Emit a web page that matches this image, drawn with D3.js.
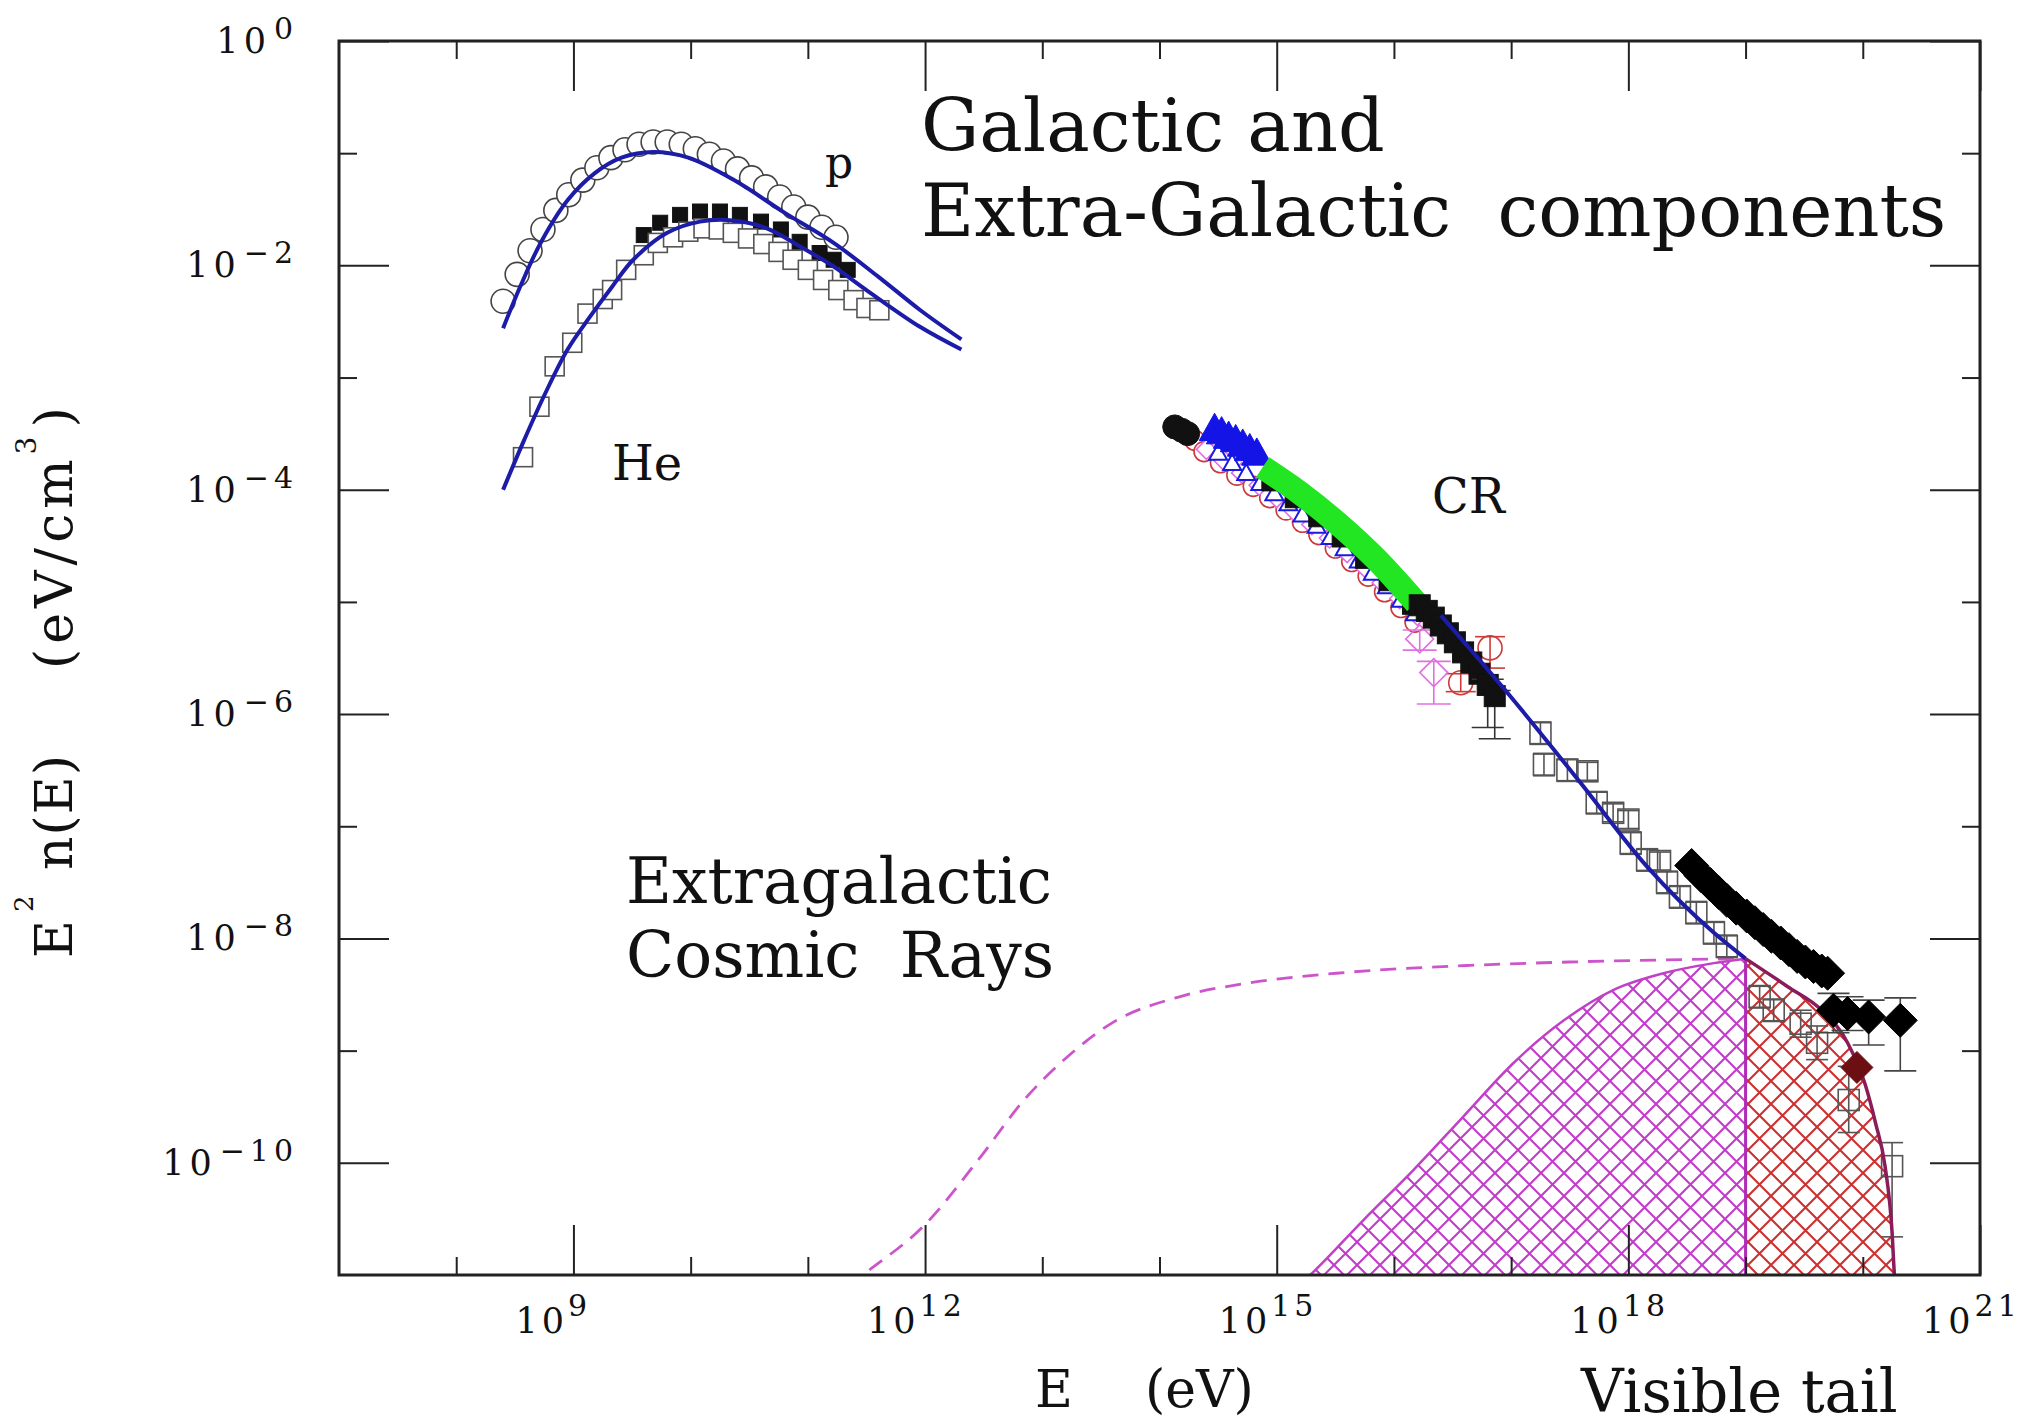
<!DOCTYPE html>
<html>
<head>
<meta charset="utf-8">
<script src="https://cdn.jsdelivr.net/npm/d3@7"></script>
<style>
  body { margin: 0; background: #fff; }
  text { font-family: 'DejaVu Serif', serif; fill: #111; }
</style>
</head>
<body>
<div id="chart"></div>
<script>
// all values are [log10 E (eV), log10 E^2 n(E) (eV/cm^3)]
// tick exponents
var xMajorExp = [9, 12, 15, 18, 21];
var xMinorExp = [8, 10, 11, 13, 14, 16, 17, 19, 20];
var yMajorExp = [0, -2, -4, -6, -8, -10];
var yMinorExp = [-1, -3, -5, -7, -9];

// galactic p and He fits
var pFit = [[8.40,-2.56],[8.55,-2.18],[8.72,-1.80],[8.95,-1.42],[9.18,-1.18],[9.41,-1.04],[9.68,-0.99],
  [9.98,-1.04],[10.37,-1.24],[10.80,-1.53],[11.22,-1.80],[11.60,-2.10],[11.96,-2.40],[12.31,-2.66]];
var heFit = [[8.40,-4.00],[8.57,-3.58],[8.76,-3.14],[8.95,-2.75],[9.14,-2.46],[9.33,-2.19],[9.51,-1.95],
  [9.80,-1.71],[10.08,-1.61],[10.36,-1.60],[10.65,-1.67],[10.93,-1.83],[11.22,-2.01],[11.50,-2.22],
  [11.96,-2.55],[12.31,-2.75]];
var pCircles = [[8.40,-2.32],[8.52,-2.08],[8.63,-1.87],[8.74,-1.68],[8.85,-1.51],[8.96,-1.37],[9.08,-1.24],
  [9.20,-1.13],[9.32,-1.04],[9.44,-0.97],[9.56,-0.92],[9.68,-0.90],[9.80,-0.90],[9.92,-0.92],[10.04,-0.96],
  [10.16,-1.01],[10.28,-1.07],[10.40,-1.14],[10.52,-1.22],[10.64,-1.30],[10.76,-1.39],[10.88,-1.48],
  [11.00,-1.57],[11.12,-1.66],[11.24,-1.75]];
var heSquares = [[8.57,-3.71],[8.71,-3.26],[8.84,-2.90],[8.99,-2.69],[9.12,-2.43],[9.25,-2.30],[9.33,-2.22],
  [9.45,-2.04],[9.60,-1.91],[9.72,-1.80],[9.85,-1.75],[9.98,-1.70],[10.11,-1.67],[10.24,-1.68],[10.36,-1.71],
  [10.49,-1.76],[10.62,-1.81],[10.75,-1.88],[10.87,-1.95],[11.00,-2.04],[11.13,-2.13],[11.26,-2.22],
  [11.39,-2.31],[11.50,-2.38],[11.61,-2.40]];
var heBlack = [[9.60,-1.73],[9.74,-1.62],[9.91,-1.55],[10.08,-1.52],[10.25,-1.52],[10.42,-1.55],[10.60,-1.61],
  [10.77,-1.68],[10.93,-1.79],[11.10,-1.89],[11.22,-1.95],[11.34,-2.04]];

// cosmic ray data
var crBlackCircles = [[14.13,-3.44],[14.19,-3.47],[14.24,-3.50]];
var crLower = [[14.40,-3.64],[14.55,-3.74],[14.70,-3.85],[14.85,-3.96],[15.00,-4.07],[15.15,-4.19],
  [15.30,-4.31],[15.45,-4.43],[15.60,-4.56],[15.75,-4.69],[15.90,-4.83],[16.05,-4.97],[16.20,-5.12]];
var crRedCircles = [[14.30,-3.56],[14.38,-3.66],[14.52,-3.76],[14.66,-3.87],[14.80,-3.97],[14.94,-4.07],
  [15.08,-4.18],[15.22,-4.29],[15.36,-4.40],[15.50,-4.52],[15.64,-4.64],[15.78,-4.77],[15.92,-4.91],
  [16.06,-5.05],[16.18,-5.18]];
var crRedErr = [[16.57,-5.72,0.08,0.08],[16.82,-5.41,0.1,0.18]];
var crMagentaErr = [[16.22,-5.33,0.08,0.1],[16.34,-5.63,0.1,0.28]];
var crBlueTop = [[14.47,-3.47],[14.53,-3.50],[14.59,-3.54],[14.65,-3.57],[14.71,-3.61],[14.77,-3.65],[14.83,-3.69]];
var crBlueRow = [[14.50,-3.68],[14.62,-3.77],[14.74,-3.86],[14.86,-3.95],[14.98,-4.04],[15.10,-4.13],
  [15.22,-4.23],[15.34,-4.33],[15.46,-4.43],[15.58,-4.53],[15.70,-4.64],[15.82,-4.75],[15.94,-4.87],
  [16.06,-4.99],[16.18,-5.11]];
var crGreen = [[14.88,-3.80],[15.20,-4.03],[15.52,-4.30],[15.85,-4.62],[16.19,-5.01]];
var crBlackUnder = [[14.95,-3.93],[15.15,-4.08],[15.35,-4.25],[15.55,-4.43],[15.75,-4.62],[15.95,-4.82],[16.15,-5.03]];
var crBlackSquares = [[16.22,-5.03],[16.28,-5.08],[16.34,-5.14],[16.40,-5.21],[16.46,-5.28],[16.52,-5.36],
  [16.59,-5.45],[16.66,-5.54],[16.73,-5.64]];
var crBlackSqErr = [[16.80,-5.74,0.05,0.38],[16.86,-5.84,0.05,0.38]];
var crOpenSquares = [[17.25,-6.17,0.1,0.1],[17.28,-6.45,0.1,0.1],[17.48,-6.50,0.1,0.1],[17.65,-6.51,0.08,0.08],
  [17.73,-6.79,0.1,0.1],[17.87,-6.88,0.08,0.08],[18.00,-6.94,0.08,0.08],[18.02,-7.15,0.1,0.1],
  [18.16,-7.30,0.1,0.1],[18.27,-7.31,0.08,0.08],[18.33,-7.50,0.1,0.1],[18.44,-7.63,0.1,0.1],
  [18.58,-7.77,0.1,0.1],[18.73,-7.95,0.1,0.1],[18.84,-8.07,0.1,0.1],[19.12,-8.52,0.1,0.1],
  [19.24,-8.64,0.1,0.1],[19.47,-8.76,0.12,0.12],[19.61,-8.93,0.15,0.15],[19.88,-9.44,0.3,0.29],
  [20.25,-10.03,0.21,0.63]];
var crDiamondBand = [[18.54,-7.35],[18.62,-7.44],[18.70,-7.52],[18.77,-7.59],[18.84,-7.66],[18.92,-7.73],
  [19.01,-7.80],[19.08,-7.86],[19.15,-7.92],[19.22,-7.98],[19.30,-8.04],[19.37,-8.10],[19.44,-8.16],
  [19.51,-8.21],[19.58,-8.25],[19.65,-8.29],[19.70,-8.31]];
var crDiamondErr = [[19.75,-8.64,0.15,0.2],[19.87,-8.67,0.15,0.15],[20.05,-8.70,0.15,0.25],[20.32,-8.73,0.2,0.45]];
var crDiamondLow = [[19.95,-9.15]];
var crFit = [[16.40,-5.12],[17.00,-5.85],[17.59,-6.61],[18.16,-7.36],[18.73,-7.95],[19.00,-8.18]];

// extragalactic component
var egDashed = [[11.35,-11.10],[11.47,-11.00],[12.00,-10.55],[12.457,-9.97],[12.836,-9.45],[13.22,-9.05],
  [13.60,-8.75],[14.17,-8.52],[14.74,-8.40],[15.51,-8.31],[16.65,-8.24],[17.50,-8.21],[19.00,-8.18]];
var egGalZone = [[15.20,-11.08],[15.285,-11.00],[15.74,-10.51],[16.17,-10.06],[16.59,-9.59],[17.02,-9.11],
  [17.45,-8.73],[17.87,-8.46],[18.30,-8.31],[18.73,-8.22],[19.00,-8.18]];
var egTail = [[19.00,-8.18],[19.36,-8.43],[19.65,-8.64],[19.87,-8.93],[20.02,-9.30],[20.11,-9.65],
  [20.19,-10.03],[20.25,-10.62],[20.27,-11.00],[20.28,-11.10]];

var width = 2029, height = 1428;
var margin = {top: 41, right: 49, bottom: 153, left: 339};
var plotW = width - margin.left - margin.right,
    plotH = height - margin.top - margin.bottom;

var svg = d3.select("#chart").append("svg")
  .attr("width", width).attr("height", height);

var x = d3.scaleLog().domain([1e7, 1e21]).range([margin.left, margin.left + plotW]);
var y = d3.scaleLog().domain([1e-11, 1]).range([margin.top + plotH, margin.top]);
var px = function(d){ return x(Math.pow(10, d[0])); };
var py = function(d){ return y(Math.pow(10, d[1])); };

var defs = svg.append("defs");
defs.append("clipPath").attr("id", "plotClip").append("rect")
  .attr("x", margin.left).attr("y", margin.top).attr("width", plotW).attr("height", plotH);

function hatch(id, color) {
  var p = defs.append("pattern").attr("id", id)
    .attr("patternUnits", "userSpaceOnUse").attr("width", 23).attr("height", 23);
  p.append("rect").attr("width", 23).attr("height", 23).attr("fill", "#fff");
  p.append("path").attr("d", "M0,0L23,23M23,0L0,23")
    .attr("stroke", color).attr("stroke-width", 2.1).attr("fill", "none");
}
hatch("hatchPink", "#c23ccb");
hatch("hatchRed", "#cc3030");

var plot = svg.append("g").attr("clip-path", "url(#plotClip)");
var line = d3.line().x(px).y(py).curve(d3.curveMonotoneX);
var bottomY = y(1e-11) + 20;
var area = d3.area().x(px).y0(bottomY).y1(py).curve(d3.curveMonotoneX);

// hatched extragalactic regions
plot.append("path").datum(egGalZone).attr("d", area)
  .attr("fill", "url(#hatchPink)").attr("stroke", "none");
plot.append("path").datum(egGalZone).attr("d", line)
  .attr("fill", "none").attr("stroke", "#c040c8").attr("stroke-width", 2.5);
plot.append("path").datum(egTail).attr("d", area)
  .attr("fill", "url(#hatchRed)").attr("stroke", "none");
plot.append("line")
  .attr("x1", x(1e19)).attr("x2", x(1e19))
  .attr("y1", py([19, -8.18])).attr("y2", bottomY)
  .attr("stroke", "#b02cb4").attr("stroke-width", 3);
plot.append("path").datum(egDashed).attr("d", line)
  .attr("fill", "none").attr("stroke", "#cc55cc").attr("stroke-width", 2.8)
  .attr("stroke-dasharray", "16,10");

// marker helpers
function squares(g, data, s, fill, stroke, sw) {
  g.selectAll(null).data(data).enter().append("rect")
    .attr("x", function(d){ return px(d) - s/2; })
    .attr("y", function(d){ return py(d) - s/2; })
    .attr("width", s).attr("height", s)
    .attr("fill", fill).attr("stroke", stroke).attr("stroke-width", sw);
}
function circles(g, data, r, fill, stroke, sw) {
  g.selectAll(null).data(data).enter().append("circle")
    .attr("cx", px).attr("cy", py).attr("r", r)
    .attr("fill", fill).attr("stroke", stroke).attr("stroke-width", sw);
}
function diamonds(g, data, h, fill, stroke, sw) {
  g.selectAll(null).data(data).enter().append("path")
    .attr("d", function(d){ var cx = px(d), cy = py(d);
      return "M" + cx + "," + (cy-h) + "L" + (cx+h) + "," + cy + "L" + cx + "," + (cy+h) + "L" + (cx-h) + "," + cy + "Z"; })
    .attr("fill", fill).attr("stroke", stroke).attr("stroke-width", sw);
}
function triangles(g, data, h, fill, stroke, sw) {
  g.selectAll(null).data(data).enter().append("path")
    .attr("d", function(d){ var cx = px(d), cy = py(d);
      return "M" + cx + "," + (cy-h) + "L" + (cx+h*0.9) + "," + (cy+h*0.6) + "L" + (cx-h*0.9) + "," + (cy+h*0.6) + "Z"; })
    .attr("fill", fill).attr("stroke", stroke).attr("stroke-width", sw);
}
function errBars(g, data, cap, color) {
  data.forEach(function(d){
    var cx = px(d), yTop = py([d[0], d[1] + d[2]]), yBot = py([d[0], d[1] - d[3]]);
    g.append("line").attr("x1", cx).attr("x2", cx).attr("y1", yTop).attr("y2", yBot)
      .attr("stroke", color).attr("stroke-width", 1.6);
    [yTop, yBot].forEach(function(yy){
      g.append("line").attr("x1", cx - cap/2).attr("x2", cx + cap/2).attr("y1", yy).attr("y2", yy)
        .attr("stroke", color).attr("stroke-width", 1.6);
    });
  });
}

// p and He data
squares(plot, heBlack, 15, "#111", "#111", 1);
squares(plot, heSquares, 19, "#fff", "#555", 1.6);
circles(plot, pCircles, 12, "#fff", "#444", 1.6);
plot.append("path").datum(pFit).attr("d", line.curve(d3.curveCatmullRom))
  .attr("fill", "none").attr("stroke", "#1c1ca8").attr("stroke-width", 4);
plot.append("path").datum(heFit).attr("d", line)
  .attr("fill", "none").attr("stroke", "#1c1ca8").attr("stroke-width", 4);
line.curve(d3.curveMonotoneX);

// cosmic ray data
circles(plot, crRedCircles, 10, "#fff", "#cc3a3a", 1.6);
errBars(plot, crRedErr, 30, "#cc3a3a");
circles(plot, crRedErr, 12, "none", "#cc3a3a", 1.6);
diamonds(plot, crLower, 10, "#fff", "#e070e0", 1.6);
errBars(plot, crMagentaErr, 34, "#e070e0");
diamonds(plot, crMagentaErr, 14, "none", "#e070e0", 1.6);
triangles(plot, crBlueRow, 10, "#fff", "#1a1ae0", 2);
squares(plot, crBlackUnder, 18, "#111", "#111", 1);
circles(plot, crBlackCircles, 12, "#111", "#111", 1);
triangles(plot, crBlueTop, 17, "#1414e6", "#1414e6", 1);
plot.append("path").datum(crGreen).attr("d", line)
  .attr("fill", "none").attr("stroke", "#22e622").attr("stroke-width", 24);
squares(plot, crBlackSquares, 21, "#111", "#111", 1);
errBars(plot, crBlackSqErr, 32, "#333");
squares(plot, crBlackSqErr, 21, "#111", "#111", 1);
errBars(plot, crOpenSquares, 22, "#555");
squares(plot, crOpenSquares, 21, "none", "#555", 1.6);

plot.append("path").datum(crFit).attr("d", line)
  .attr("fill", "none").attr("stroke", "#1c1ca8").attr("stroke-width", 4);
plot.append("path").datum(egTail).attr("d", line)
  .attr("fill", "none").attr("stroke", "#8a1c5a").attr("stroke-width", 3.5);

errBars(plot, crDiamondErr, 32, "#444");
diamonds(plot, crDiamondBand, 17, "#000", "#000", 1);
diamonds(plot, crDiamondErr, 17, "#000", "#000", 1);
diamonds(plot, crDiamondLow, 16, "#6b0f12", "#6b0f12", 1);

// frame and ticks on all sides
function tickAxis(axis, tr, vals, len) {
  var g = svg.append("g").attr("transform", tr)
    .call(axis.tickValues(vals).tickSize(-len).tickFormat(""));
  g.select(".domain").remove();
  g.selectAll(".tick line").attr("stroke", "#222").attr("stroke-width", 2);
}
var xMaj = xMajorExp.map(function(e){ return Math.pow(10, e); });
var xMin = xMinorExp.map(function(e){ return Math.pow(10, e); });
var yMaj = yMajorExp.map(function(e){ return Math.pow(10, e); });
var yMin = yMinorExp.map(function(e){ return Math.pow(10, e); });
var yBase = margin.top + plotH, xRight = margin.left + plotW;
tickAxis(d3.axisBottom(x), "translate(0," + yBase + ")", xMaj, 50);
tickAxis(d3.axisBottom(x), "translate(0," + yBase + ")", xMin, 18);
tickAxis(d3.axisTop(x), "translate(0," + margin.top + ")", xMaj, 50);
tickAxis(d3.axisTop(x), "translate(0," + margin.top + ")", xMin, 18);
tickAxis(d3.axisLeft(y), "translate(" + margin.left + ",0)", yMaj, 50);
tickAxis(d3.axisLeft(y), "translate(" + margin.left + ",0)", yMin, 18);
tickAxis(d3.axisRight(y), "translate(" + xRight + ",0)", yMaj, 50);
tickAxis(d3.axisRight(y), "translate(" + xRight + ",0)", yMin, 18);

svg.append("rect").attr("x", margin.left).attr("y", margin.top)
  .attr("width", plotW).attr("height", plotH)
  .attr("fill", "none").attr("stroke", "#222").attr("stroke-width", 3);

// tick labels
xMajorExp.forEach(function(e){
  var t = svg.append("text").attr("x", x(Math.pow(10, e)) - 58).attr("y", yBase + 58)
    .style("font-size", "35px").style("letter-spacing", "4px");
  t.append("tspan").text("10");
  t.append("tspan").attr("dy", -17).style("font-size", "30px").text(e);
});
yMajorExp.forEach(function(e){
  var t = svg.append("text").attr("x", 298).attr("y", y(Math.pow(10, e)) + 12)
    .attr("text-anchor", "end")
    .style("font-size", "35px").style("letter-spacing", "5px");
  t.append("tspan").text("10");
  t.append("tspan").attr("dy", -14).attr("dx", 3).style("font-size", "30px")
    .text(e === 0 ? "0" : "\u2212" + (-e));
});

// axis titles
svg.append("text").attr("x", 1035).attr("y", 1407).style("font-size", "52px").text("E");
svg.append("text").attr("x", 1145).attr("y", 1407).style("font-size", "52px").text("(eV)");

var yt = svg.append("g").attr("transform", "rotate(-90)");
yt.append("text").attr("x", -958).attr("y", 72).style("font-size", "52px").text("E");
yt.append("text").attr("x", -912).attr("y", 33).style("font-size", "26px").text("2");
yt.append("text").attr("x", -870).attr("y", 72).style("font-size", "52px").style("letter-spacing", "1px").text("n(E)");
var yUnit = yt.append("text").attr("x", -669).attr("y", 72).style("font-size", "52px").style("letter-spacing", "5px");
yUnit.append("tspan").text("(eV/cm");
yUnit.append("tspan").attr("dy", -36).style("font-size", "28px").text("3");
yUnit.append("tspan").attr("dy", 36).attr("dx", 4).text(")");

// annotations
svg.append("text").attr("x", 825).attr("y", 178).style("font-size", "44px").text("p");
svg.append("text").attr("x", 612).attr("y", 480).style("font-size", "48px").text("He");
svg.append("text").attr("x", 1432).attr("y", 513).style("font-size", "48px").text("CR");
svg.append("text").attr("x", 921).attr("y", 151).style("font-size", "73px").text("Galactic and");
svg.append("text").attr("x", 921).attr("y", 236).style("font-size", "73px").style("white-space", "pre")
  .text("Extra-Galactic  components");
svg.append("text").attr("x", 626).attr("y", 903).style("font-size", "63px").text("Extragalactic");
svg.append("text").attr("x", 626).attr("y", 977).style("font-size", "63px").style("white-space", "pre")
  .text("Cosmic  Rays");
svg.append("text").attr("x", 1581).attr("y", 1412).style("font-size", "59px").text("Visible tail");
</script>
</body>
</html>
